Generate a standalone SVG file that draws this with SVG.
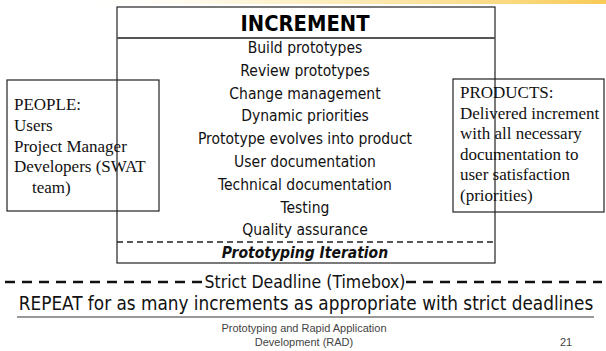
<svg xmlns="http://www.w3.org/2000/svg" width="606" height="351" viewBox="0 0 606 351">
<defs>
<linearGradient id="topg" x1="0" y1="0" x2="1" y2="0">
<stop offset="0" stop-color="#ffffff" stop-opacity="0"/>
<stop offset="0.4" stop-color="#fbe9a8" stop-opacity="0.6"/>
<stop offset="1" stop-color="#f7c443" stop-opacity="0.9"/>
</linearGradient>
</defs>
<style>
.t{font-family:"DejaVu Sans","Liberation Sans",sans-serif;font-stretch:condensed;font-size:15.5px;fill:#111;text-anchor:middle}
.s{font-family:"Liberation Serif","DejaVu Serif",serif;font-size:17px;fill:#111}
.f{font-family:"Liberation Sans",Arial,sans-serif;font-size:11px;fill:#444}
.box{fill:none;stroke:#222;stroke-width:1.2}
</style>
<rect x="60" y="0" width="546" height="4" fill="url(#topg)"/>
<g id="increment">
<rect class="box" x="117" y="7" width="378" height="256" stroke-width="1.6"/>
<line x1="117" y1="38" x2="495" y2="38" stroke="#555" stroke-width="1.8"/>
<text x="305" y="31" style="font-family:'DejaVu Sans','Liberation Sans',sans-serif;font-weight:bold;font-size:21px;fill:#000;text-anchor:middle" textLength="129" lengthAdjust="spacingAndGlyphs">INCREMENT</text>
<text class="t" x="305" y="53">Build prototypes</text>
<text class="t" x="305" y="76">Review prototypes</text>
<text class="t" x="305" y="98.5">Change management</text>
<text class="t" x="305" y="121">Dynamic priorities</text>
<text class="t" x="305" y="144">Prototype evolves into product</text>
<text class="t" x="305" y="167">User documentation</text>
<text class="t" x="305" y="190">Technical documentation</text>
<text class="t" x="305" y="213">Testing</text>
<text class="t" x="305" y="235">Quality assurance</text>
<line x1="117" y1="242" x2="495" y2="242" stroke="#222" stroke-width="1.4" stroke-dasharray="6 4"/>
<text class="t" x="305" y="258" style="font-weight:bold;font-style:italic">Prototyping Iteration</text>
</g>
<g id="people">
<rect class="box" x="7" y="80" width="152" height="131"/>
<text class="s" x="14" y="110">PEOPLE:</text>
<text class="s" x="14" y="131">Users</text>
<text class="s" x="14" y="151.5">Project Manager</text>
<text class="s" x="14" y="172">Developers (SWAT</text>
<text class="s" x="32" y="193">team)</text>
</g>
<g id="products">
<rect class="box" x="453" y="79" width="151" height="133"/>
<text class="s" x="460" y="98">PRODUCTS:</text>
<text class="s" x="460" y="118.5">Delivered increment</text>
<text class="s" x="460" y="139">with all necessary</text>
<text class="s" x="460" y="159.5">documentation to</text>
<text class="s" x="460" y="180">user satisfaction</text>
<text class="s" x="460" y="200.5">(priorities)</text>
</g>
<g id="connectors">
<line x1="5" y1="282" x2="204" y2="282" stroke="#111" stroke-width="2.4" stroke-dasharray="10 7"/>
<line x1="406" y1="282" x2="602" y2="282" stroke="#111" stroke-width="2.4" stroke-dasharray="10 7"/>
</g>
<g id="timebox">
<text class="t" x="305" y="288" style="font-size:17.5px">Strict Deadline (Timebox)</text>
</g>
<g id="repeat">
<text class="t" x="306" y="310" style="font-size:18.8px">REPEAT for as many increments as appropriate with strict deadlines</text>
<line x1="17" y1="317" x2="594" y2="317" stroke="#777" stroke-width="1.6"/>
</g>
<g id="footer">
<text class="f" x="304" y="332" text-anchor="middle">Prototyping and Rapid Application</text>
<text class="f" x="304" y="346" text-anchor="middle">Development (RAD)</text>
<text class="f" x="560" y="346">21</text>
</g>
</svg>
